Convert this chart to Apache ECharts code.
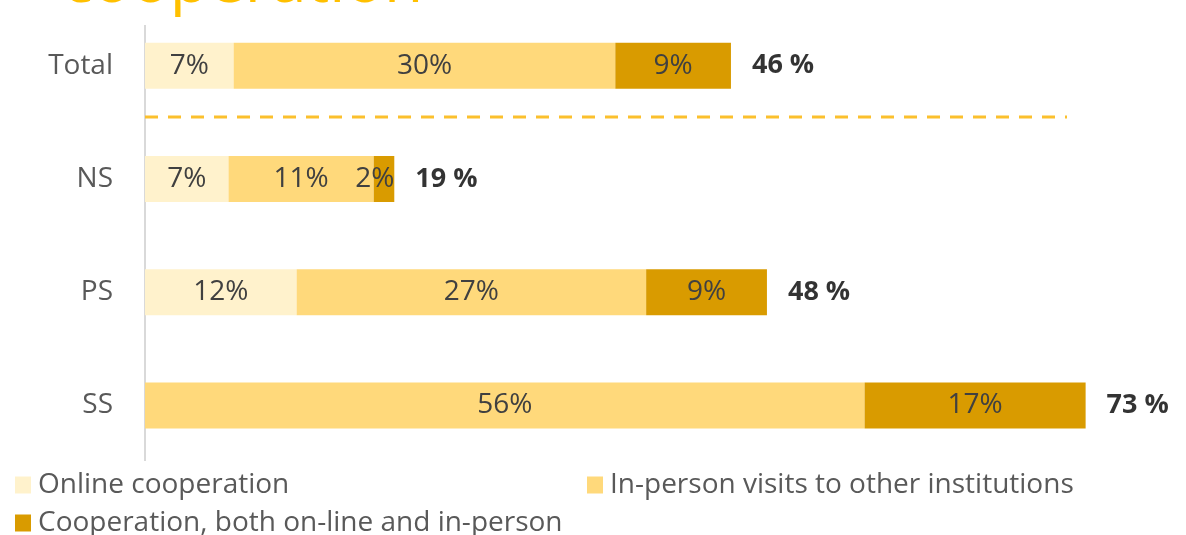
<!DOCTYPE html>
<html>
<head>
<meta charset="utf-8">
<script src="https://cdn.jsdelivr.net/npm/echarts@6/dist/echarts.min.js"></script>
<style>
  html, body { margin: 0; padding: 0; background: #ffffff; }
  #chart { width: 1186px; height: 535px; }
</style>
</head>
<body>
<div id="chart"></div>
<script>
// Share of respondents by type of cooperation, per group (percent)
const categories = ['Total', 'NS', 'PS', 'SS'];
const seriesNames = [
  'Online cooperation',
  'In-person visits to other institutions',
  'Cooperation, both on-line and in-person'
];
const onlineValues   = [6.9, 6.5, 11.8, 0];
const inPersonValues = [29.7, 11.3, 27.2, 56.0];
const bothValues     = [9.0, 1.6, 9.4, 17.2];

const colors = ['#FFF2CC', '#FFD97B', '#D99B00'];
const FONT = '"Open Sans", sans-serif';

const totals = categories.map((c, i) => onlineValues[i] + inPersonValues[i] + bothValues[i]);

const chart = echarts.init(document.getElementById('chart'), null, { renderer: 'canvas' });

function segment(name, values, color) {
  return {
    name: name,
    type: 'bar',
    stack: 'share',
    barWidth: 46,
    // very thin segments get their label pinned to the bar's right end
    data: values.map(v => (v > 0 && v < 3
      ? { value: v, label: { position: 'insideRight', distance: 0 } }
      : v)),
    itemStyle: { color: color },
    label: {
      show: true,
      position: 'inside',
      color: '#404040',
      fontFamily: FONT,
      fontSize: 28,
      formatter: p => (p.value > 0 ? Math.round(p.value) + '%' : '')
    },
    emphasis: { disabled: true }
  };
}

function legendItem(name, left, top) {
  return {
    data: [name],
    left: left,
    top: top,
    icon: 'rect',
    itemWidth: 16,
    itemHeight: 17,
    itemGap: 0,
    padding: 0,
    textStyle: { color: '#595959', fontSize: 28, fontFamily: FONT, padding: [0, 0, 0, 2] },
    selectedMode: false
  };
}

chart.setOption({
  animation: false,
  color: colors,
  textStyle: { fontFamily: FONT },
  grid: { left: 145, top: 9, width: 1028, bottom: 73, containLabel: false },
  xAxis: {
    type: 'value',
    min: 0,
    max: 80,
    show: false
  },
  yAxis: {
    type: 'category',
    data: categories,
    inverse: true,
    axisLine: { show: false },
    axisTick: { show: false },
    axisLabel: { color: '#595959', fontSize: 28, fontFamily: FONT, margin: 32 }
  },
  legend: [
    legendItem(seriesNames[0], 15, 471),
    legendItem(seriesNames[1], 587, 471),
    legendItem(seriesNames[2], 15, 509)
  ],
  series: [
    segment(seriesNames[0], onlineValues, colors[0]),
    segment(seriesNames[1], inPersonValues, colors[1]),
    segment(seriesNames[2], bothValues, colors[2]),
    {
      name: 'total',
      type: 'scatter',
      symbolSize: 0,
      data: totals.map((t, i) => [t, categories[i]]),
      label: {
        show: true,
        position: 'right',
        distance: 21,
        color: '#000000',
        fontWeight: 'bold',
        fontSize: 27,
        fontFamily: FONT,
        formatter: p => Math.round(p.value[0]) + ' %'
      },
      emphasis: { disabled: true },
      silent: true
    }
  ],
  graphic: [
    {
      type: 'text',
      left: 62,
      top: -48,
      style: { text: 'cooperation', font: '64px ' + FONT, fill: '#FFC000' }
    },
    {
      type: 'line',
      shape: { x1: 145, y1: 25, x2: 145, y2: 461 },
      style: { stroke: '#D9D9D9', lineWidth: 2 },
      silent: true
    },
    {
      type: 'line',
      shape: { x1: 145, y1: 117, x2: 1067, y2: 117 },
      style: { stroke: '#FBC02D', lineWidth: 3, lineDash: [13, 10] },
      silent: true
    }
  ]
});
</script>
</body>
</html>
